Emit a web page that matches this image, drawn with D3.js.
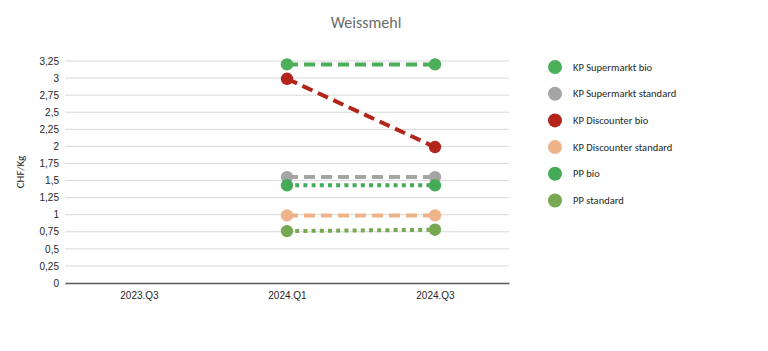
<!DOCTYPE html>
<html>
<head>
<meta charset="utf-8">
<script src="https://cdn.jsdelivr.net/npm/d3@7"></script>
<style>
  body { margin: 0; background: #fff; }
  svg { display: block; font-family: Calibri, Carlito, "Open Sans", sans-serif; }
</style>
</head>
<body>
<div id="chart"></div>
<script>
// Weissmehl — Preise CHF/Kg
const quarters = ["2023.Q3", "2024.Q1", "2024.Q3"];
const yTicks = [0, 0.25, 0.5, 0.75, 1, 1.25, 1.5, 1.75, 2, 2.25, 2.5, 2.75, 3, 3.25];

const seriesNames = ["KP Supermarkt bio", "KP Supermarkt standard", "KP Discounter bio",
  "KP Discounter standard", "PP bio", "PP standard"];
const kpSupermarktBio = [null, 3.20, 3.20];
const kpSupermarktStd = [null, 1.55, 1.55];
const kpDiscounterBio = [null, 2.99, 1.99];
const kpDiscounterStd = [null, 0.99, 0.99];
const ppBio = [null, 1.43, 1.43];
const ppStd = [null, 0.76, 0.78];

const colors = ["#4caf5a", "#a5a5a5", "#b3241b", "#efb389", "#46ab58", "#78a952"];
const dashes = ["11,6", "11,6", "11,6", "11,6", "4,4.2", "4,4.2"];

const series = [kpSupermarktBio, kpSupermarktStd, kpDiscounterBio, kpDiscounterStd, ppBio, ppStd]
  .map((values, i) => ({ name: seriesNames[i], values, color: colors[i], dash: dashes[i] }));

const width = 768, height = 351;
const margin = { top: 61, right: 259, bottom: 68, left: 65 };
const innerW = width - margin.left - margin.right;
const innerH = height - margin.top - margin.bottom;

const svg = d3.select("#chart").append("svg")
  .attr("width", width).attr("height", height);

const g = svg.append("g").attr("transform", `translate(${margin.left},${margin.top})`);

const x = d3.scalePoint().domain(quarters).range([0, innerW]).padding(0.5);
const y = d3.scaleLinear().domain([0, 3.25]).range([innerH, 0]);

// gridlines
g.append("g")
  .selectAll("line")
  .data(yTicks.filter(d => d > 0))
  .join("line")
    .attr("x1", 0).attr("x2", innerW)
    .attr("y1", d => y(d)).attr("y2", d => y(d))
    .attr("stroke", "#d9d9d9").attr("stroke-width", 1);

// y axis
const fmt = d => String(d).replace(".", ",");
const yAxis = g.append("g")
  .call(d3.axisLeft(y).tickValues(yTicks).tickFormat(fmt).tickSize(0).tickPadding(6));
yAxis.select(".domain").remove();
yAxis.selectAll("text").attr("fill", "#262626").style("font-size", "10px");

// x axis
const xAxis = g.append("g")
  .attr("transform", `translate(0,${innerH})`)
  .call(d3.axisBottom(x).tickSize(0).tickPadding(9));
xAxis.select(".domain").attr("stroke", "#595959").attr("stroke-width", 1.5);
xAxis.selectAll("text").attr("fill", "#262626").style("font-size", "10px");

// lines
const line = d3.line()
  .defined(d => d.v != null)
  .x(d => x(d.q))
  .y(d => y(d.v));

series.forEach(s => {
  const pts = s.values.map((v, i) => ({ q: quarters[i], v }));
  g.append("path")
    .datum(pts)
    .attr("d", line)
    .attr("fill", "none")
    .attr("stroke", s.color)
    .attr("stroke-width", 4)
    .attr("stroke-dasharray", s.dash);
  g.selectAll(null)
    .data(pts.filter(d => d.v != null))
    .join("circle")
      .attr("cx", d => x(d.q))
      .attr("cy", d => y(d.v))
      .attr("r", 6.2)
      .attr("fill", s.color);
});

// title
svg.append("text")
  .attr("x", 366).attr("y", 28)
  .attr("text-anchor", "middle")
  .attr("fill", "#6b6b6b")
  .style("font-size", "16px")
  .text("Weissmehl");

// y label
svg.append("text")
  .attr("transform", `translate(24,${margin.top + innerH / 2}) rotate(-90)`)
  .attr("text-anchor", "middle")
  .attr("fill", "#262626")
  .style("font-size", "11px")
  .text("CHF/Kg");

// legend
const legend = svg.append("g").attr("transform", "translate(555,67)");
const items = legend.selectAll("g")
  .data(series)
  .join("g")
    .attr("transform", (d, i) => `translate(0,${i * 26.7})`);
items.append("circle").attr("r", 7).attr("fill", d => d.color);
items.append("text")
  .attr("x", 18).attr("dy", "0.35em")
  .attr("fill", "#262626")
  .style("font-size", "10.5px")
  .text(d => d.name);
</script>
</body>
</html>
